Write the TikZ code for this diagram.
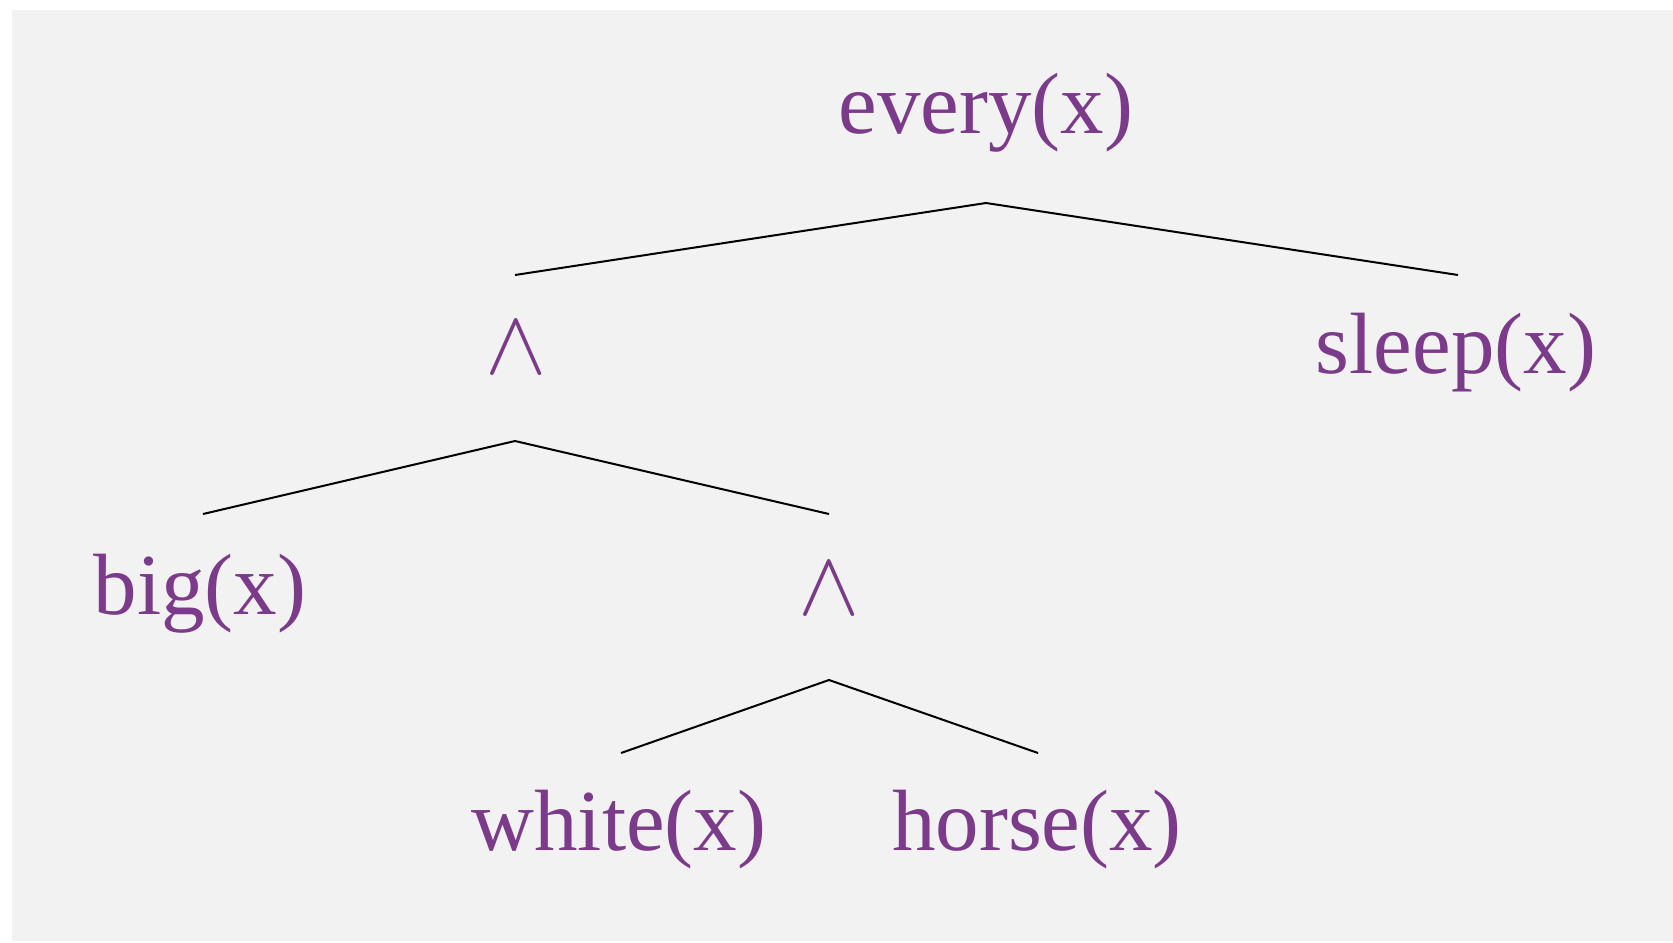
\RequirePackage{fix-cm}
\documentclass[tikz,border=0pt]{standalone}
\usepackage{fontspec}
\setmainfont{Liberation Serif}
\definecolor{bgrey}{HTML}{F2F2F2}
\definecolor{lbl}{RGB}{124,58,138}
\begin{document}
\begin{tikzpicture}[x=0.5pt,y=-0.5pt,
  lab/.style={inner sep=0pt,anchor=base,text=lbl,font=\fontsize{43.5}{50}\selectfont},
  opr/.style={inner sep=0pt,anchor=base,text=lbl,font=\fontsize{46}{54}\selectfont},
  branch/.style={draw=black,line width=1pt}]
\useasboundingbox (0,0) rectangle (1673,942);
\fill[bgrey] (12,10) rectangle (1673,941);
% nodes
\node[lab] (every) at (986,133) {every(x)};
\node[opr] (and1) at (516,373) {$\wedge$};
\node[lab] (sleep) at (1456,373) {sleep(x)};
\node[lab] (big) at (200,614) {big(x)};
\node[opr] (and2) at (829,614) {$\wedge$};
\node[lab] (white) at (619,850) {white(x)};
\node[lab] (horse) at (1037,850) {horse(x)};
% branch points
\coordinate (ap1) at (986,203);
\coordinate (e1l) at (515,275);
\coordinate (e1r) at (1458,275);
\coordinate (ap2) at (515,441);
\coordinate (e2l) at (203,514);
\coordinate (e2r) at (829,514);
\coordinate (ap3) at (829,680);
\coordinate (e3l) at (621,753);
\coordinate (e3r) at (1038,753);
\draw[branch] (e1l) -- (ap1) -- (e1r);
\draw[branch] (e2l) -- (ap2) -- (e2r);
\draw[branch] (e3l) -- (ap3) -- (e3r);
\end{tikzpicture}
\end{document}
